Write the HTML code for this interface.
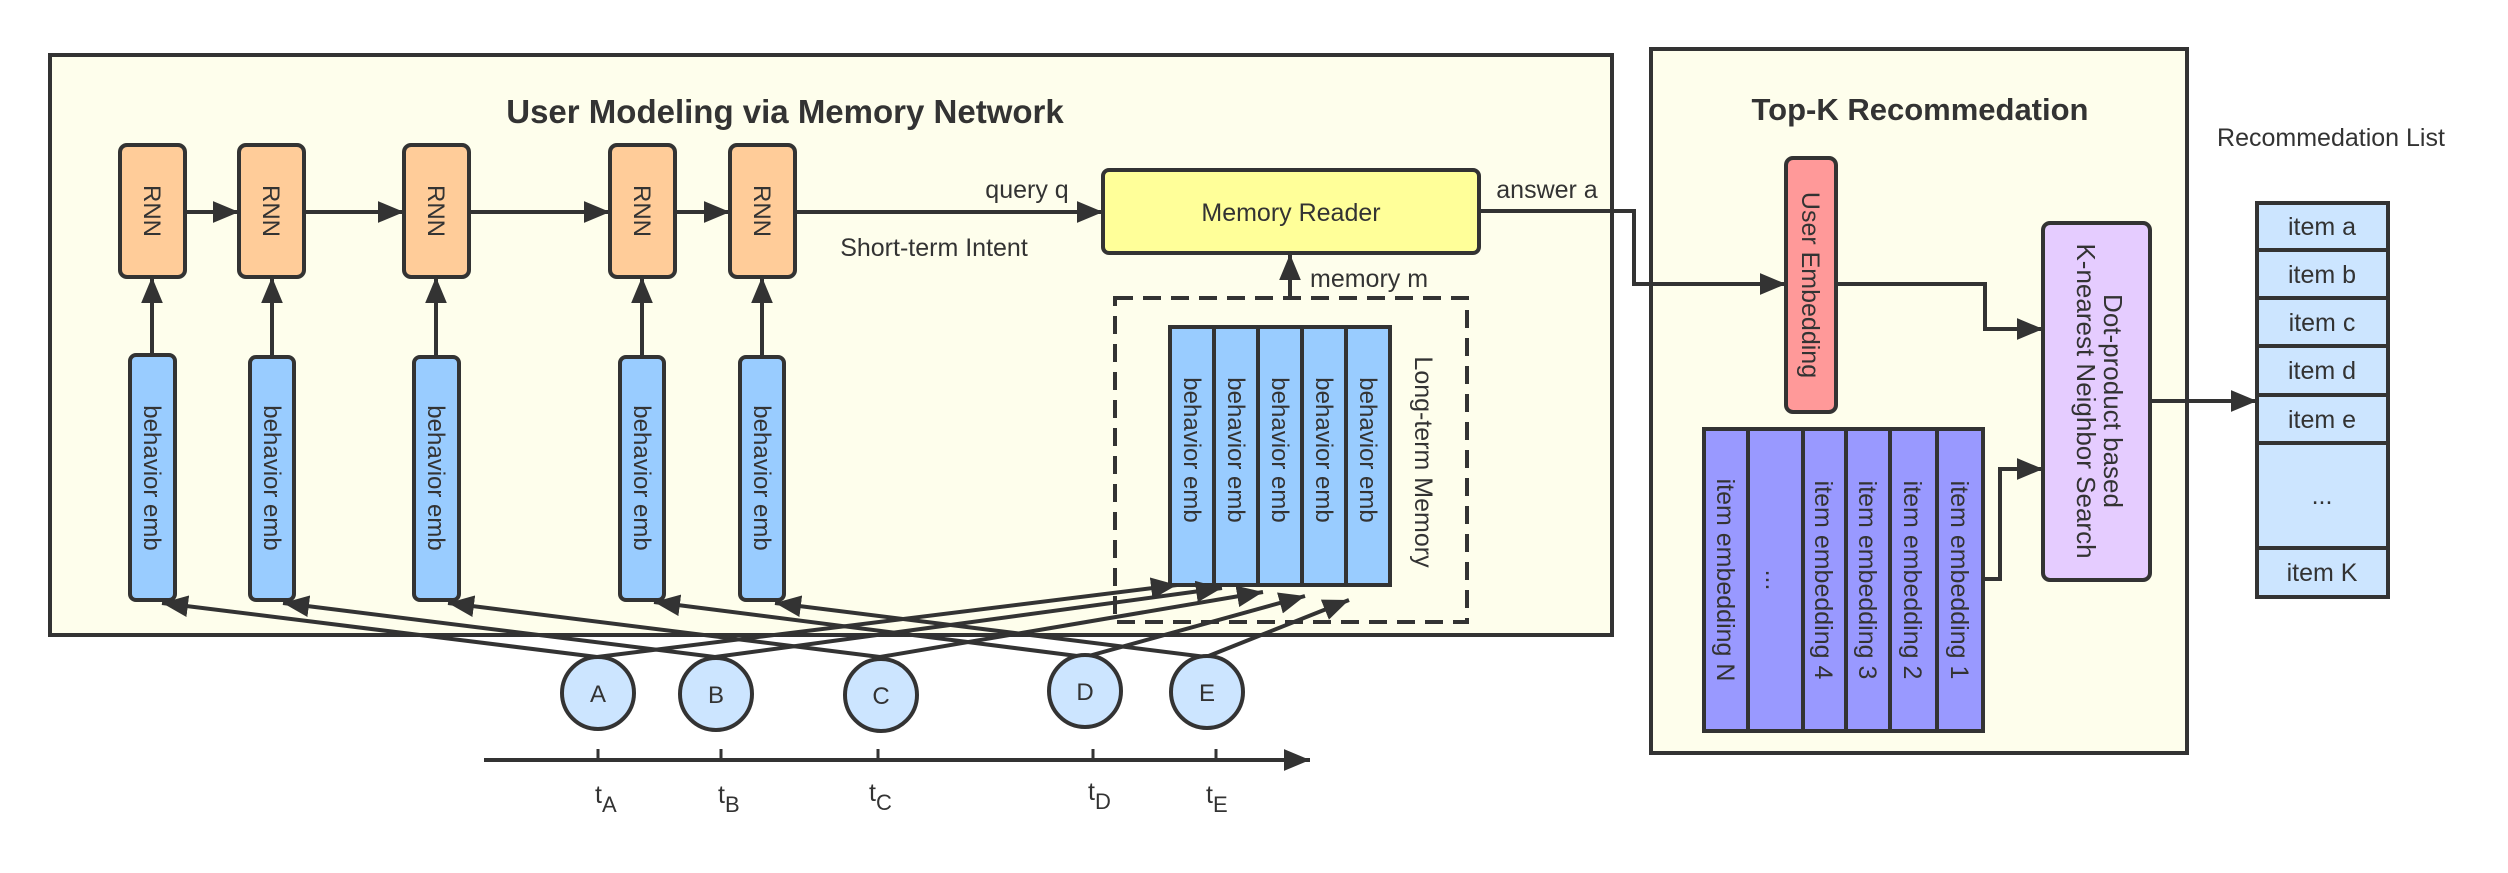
<!DOCTYPE html>
<html><head><meta charset="utf-8"><style>
html,body{margin:0;padding:0;background:#fff;}
svg{display:block;}
text{font-family:"Liberation Sans",sans-serif;fill:#333;}
</style></head><body>
<svg width="2508" height="873" viewBox="0 0 2508 873" xmlns="http://www.w3.org/2000/svg">
<defs>
<marker id="a" viewBox="0 0 12 10" refX="12" refY="5" markerWidth="26" markerHeight="22" markerUnits="userSpaceOnUse" orient="auto"><path d="M0,0 L12,5 L0,10 z" fill="#333"/></marker>
</defs>
<!-- Left panel -->
<rect x="50" y="55" width="1562" height="580" fill="#FEFEEC" stroke="#333" stroke-width="4"/>
<text x="785" y="123" font-size="33" font-weight="bold" text-anchor="middle">User Modeling via Memory Network</text>

<!-- RNN boxes -->
<g fill="#FFCC99" stroke="#333" stroke-width="4">
<rect x="120" y="145" width="65" height="132" rx="7"/>
<rect x="239" y="145" width="65" height="132" rx="7"/>
<rect x="404" y="145" width="65" height="132" rx="7"/>
<rect x="610" y="145" width="65" height="132" rx="7"/>
<rect x="730" y="145" width="65" height="132" rx="7"/>
</g>
<g font-size="24" text-anchor="middle">
<text transform="translate(152,211) rotate(90)" dy="8">RNN</text>
<text transform="translate(271,211) rotate(90)" dy="8">RNN</text>
<text transform="translate(436,211) rotate(90)" dy="8">RNN</text>
<text transform="translate(642,211) rotate(90)" dy="8">RNN</text>
<text transform="translate(762,211) rotate(90)" dy="8">RNN</text>
</g>
<g stroke="#333" stroke-width="4" fill="none" marker-end="url(#a)">
<line x1="185" y1="212" x2="239" y2="212"/>
<line x1="304" y1="212" x2="404" y2="212"/>
<line x1="469" y1="212" x2="610" y2="212"/>
<line x1="675" y1="212" x2="730" y2="212"/>
<line x1="795" y1="212" x2="1103" y2="212"/>
<line x1="152" y1="355" x2="152" y2="277"/>
<line x1="272" y1="355" x2="272" y2="277"/>
<line x1="436" y1="355" x2="436" y2="277"/>
<line x1="642" y1="355" x2="642" y2="277"/>
<line x1="762" y1="355" x2="762" y2="277"/>
</g>

<!-- behavior emb -->
<g fill="#99CCFF" stroke="#333" stroke-width="4">
<rect x="130" y="355" width="45" height="245" rx="6"/>
<rect x="250" y="357" width="44" height="243" rx="6"/>
<rect x="414" y="357" width="45" height="243" rx="6"/>
<rect x="620" y="357" width="44" height="243" rx="6"/>
<rect x="740" y="357" width="44" height="243" rx="6"/>
</g>
<g font-size="24" text-anchor="middle">
<text transform="translate(152,478) rotate(90)" dy="8">behavior emb</text>
<text transform="translate(272,478) rotate(90)" dy="8">behavior emb</text>
<text transform="translate(436,478) rotate(90)" dy="8">behavior emb</text>
<text transform="translate(642,478) rotate(90)" dy="8">behavior emb</text>
<text transform="translate(762,478) rotate(90)" dy="8">behavior emb</text>
</g>

<!-- Memory Reader -->
<rect x="1103" y="170" width="376" height="83" rx="6" fill="#FFFF99" stroke="#333" stroke-width="4"/>
<text x="1291" y="221" font-size="25" text-anchor="middle">Memory Reader</text>
<text x="1027" y="198" font-size="25" text-anchor="middle">query q</text>
<text x="934" y="256" font-size="25" text-anchor="middle">Short-term Intent</text>
<line x1="1290" y1="298" x2="1290" y2="254" stroke="#333" stroke-width="4" marker-end="url(#a)"/>
<text x="1310" y="287" font-size="25">memory m</text>

<!-- dashed box -->
<rect x="1115" y="298" width="352" height="324" fill="none" stroke="#333" stroke-width="4" stroke-dasharray="18,10"/>
<g fill="#99CCFF" stroke="#333" stroke-width="4">
<rect x="1170" y="327" width="44" height="258"/>
<rect x="1214" y="327" width="44" height="258"/>
<rect x="1258" y="327" width="44" height="258"/>
<rect x="1302" y="327" width="44" height="258"/>
<rect x="1346" y="327" width="44" height="258"/>
</g>
<g font-size="24" text-anchor="middle">
<text transform="translate(1192,450) rotate(90)" dy="8">behavior emb</text>
<text transform="translate(1236,450) rotate(90)" dy="8">behavior emb</text>
<text transform="translate(1280,450) rotate(90)" dy="8">behavior emb</text>
<text transform="translate(1324,450) rotate(90)" dy="8">behavior emb</text>
<text transform="translate(1368,450) rotate(90)" dy="8">behavior emb</text>
<text transform="translate(1423,462) rotate(90)" dy="8" font-size="25">Long-term Memory</text>
</g>

<!-- connectors from circles -->
<g stroke="#333" stroke-width="4" fill="none" marker-end="url(#a)">
<line x1="597" y1="657" x2="162" y2="603"/>
<line x1="715" y1="657" x2="283" y2="603"/>
<line x1="880" y1="657" x2="448" y2="603"/>
<line x1="1085" y1="657" x2="654" y2="602"/>
<line x1="1206" y1="657" x2="775" y2="603"/>
<line x1="597" y1="657" x2="1177" y2="585"/>
<line x1="715" y1="657" x2="1222" y2="588"/>
<line x1="880" y1="657" x2="1263" y2="592"/>
<line x1="1085" y1="657" x2="1305" y2="596"/>
<line x1="1206" y1="657" x2="1349" y2="600"/>
</g>
<g fill="#CCE5FF" stroke="#333" stroke-width="4">
<ellipse cx="598" cy="693" rx="36" ry="36"/>
<ellipse cx="716" cy="694" rx="36" ry="36"/>
<ellipse cx="881" cy="695" rx="36" ry="36"/>
<ellipse cx="1085" cy="691" rx="36" ry="36"/>
<ellipse cx="1207" cy="692" rx="36" ry="36"/>
</g>
<g font-size="24" text-anchor="middle">
<text x="598" y="702">A</text><text x="716" y="703">B</text><text x="881" y="704">C</text><text x="1085" y="700">D</text><text x="1207" y="701">E</text>
</g>
<!-- timeline -->
<line x1="484" y1="760" x2="1310" y2="760" stroke="#333" stroke-width="4" marker-end="url(#a)"/>
<g stroke="#333" stroke-width="3">
<line x1="598" y1="749" x2="598" y2="760"/><line x1="721" y1="749" x2="721" y2="760"/>
<line x1="878" y1="749" x2="878" y2="760"/><line x1="1093" y1="749" x2="1093" y2="760"/>
<line x1="1216" y1="749" x2="1216" y2="760"/>
</g>
<g font-size="25">
<text x="595" y="803">t<tspan font-size="22" dy="9">A</tspan></text>
<text x="718" y="803">t<tspan font-size="22" dy="9">B</tspan></text>
<text x="869" y="801">t<tspan font-size="22" dy="9">C</tspan></text>
<text x="1088" y="800">t<tspan font-size="22" dy="9">D</tspan></text>
<text x="1206" y="803">t<tspan font-size="22" dy="9">E</tspan></text>
</g>

<!-- Right panel -->
<rect x="1651" y="49" width="536" height="704" fill="#FEFEEC" stroke="#333" stroke-width="4"/>
<text x="1920" y="120" font-size="31" font-weight="bold" text-anchor="middle">Top-K Recommedation</text>
<text x="2331" y="146" font-size="25" text-anchor="middle">Recommedation List</text>
<text x="1547" y="198" font-size="25" text-anchor="middle">answer a</text>

<polyline points="1479,211 1634,211 1634,284 1786,284" fill="none" stroke="#333" stroke-width="4" marker-end="url(#a)"/>
<rect x="1786" y="158" width="50" height="254" rx="7" fill="#FF9999" stroke="#333" stroke-width="4"/>
<text transform="translate(1811,285) rotate(90)" dy="9" font-size="25" text-anchor="middle">User Embedding</text>
<polyline points="1836,284 1985,284 1985,329 2043,329" fill="none" stroke="#333" stroke-width="4" marker-end="url(#a)"/>

<rect x="2043" y="223" width="107" height="357" rx="7" fill="#E5CCFF" stroke="#333" stroke-width="4"/>
<text transform="translate(2096,401) rotate(90)" font-size="26" text-anchor="middle"><tspan x="0" dy="-8">Dot-product based</tspan><tspan x="0" dy="27">K-nearest Neighbor Search</tspan></text>

<g fill="#9999FF" stroke="#333" stroke-width="4">
<rect x="1704" y="429" width="44" height="302"/>
<rect x="1748" y="429" width="55" height="302"/>
<rect x="1803" y="429" width="43" height="302"/>
<rect x="1846" y="429" width="44" height="302"/>
<rect x="1890" y="429" width="47" height="302"/>
<rect x="1937" y="429" width="46" height="302"/>
</g>
<g font-size="25" text-anchor="middle">
<text transform="translate(1726,580) rotate(90)" dy="9">item embedding N</text>
<text transform="translate(1775,580) rotate(90)" dy="9">...</text>
<text transform="translate(1824,580) rotate(90)" dy="9">item embedding 4</text>
<text transform="translate(1868,580) rotate(90)" dy="9">item embedding 3</text>
<text transform="translate(1913,580) rotate(90)" dy="9">item embedding 2</text>
<text transform="translate(1960,580) rotate(90)" dy="9">item embedding 1</text>
</g>
<polyline points="1983,579 2000,579 2000,469 2043,469" fill="none" stroke="#333" stroke-width="4" marker-end="url(#a)"/>
<line x1="2150" y1="401" x2="2257" y2="401" stroke="#333" stroke-width="4" marker-end="url(#a)"/>

<!-- list -->
<g fill="#CCE5FF" stroke="#333" stroke-width="4">
<rect x="2257" y="203" width="131" height="47"/>
<rect x="2257" y="250" width="131" height="48"/>
<rect x="2257" y="298" width="131" height="48"/>
<rect x="2257" y="346" width="131" height="49"/>
<rect x="2257" y="395" width="131" height="48"/>
<rect x="2257" y="443" width="131" height="105"/>
<rect x="2257" y="548" width="131" height="49"/>
</g>
<g font-size="25" text-anchor="middle">
<text x="2322" y="235">item a</text>
<text x="2322" y="283">item b</text>
<text x="2322" y="331">item  c</text>
<text x="2322" y="379">item d</text>
<text x="2322" y="428">item e</text>
<text x="2322" y="504">...</text>
<text x="2322" y="581">item K</text>
</g>
</svg>
</body></html>
